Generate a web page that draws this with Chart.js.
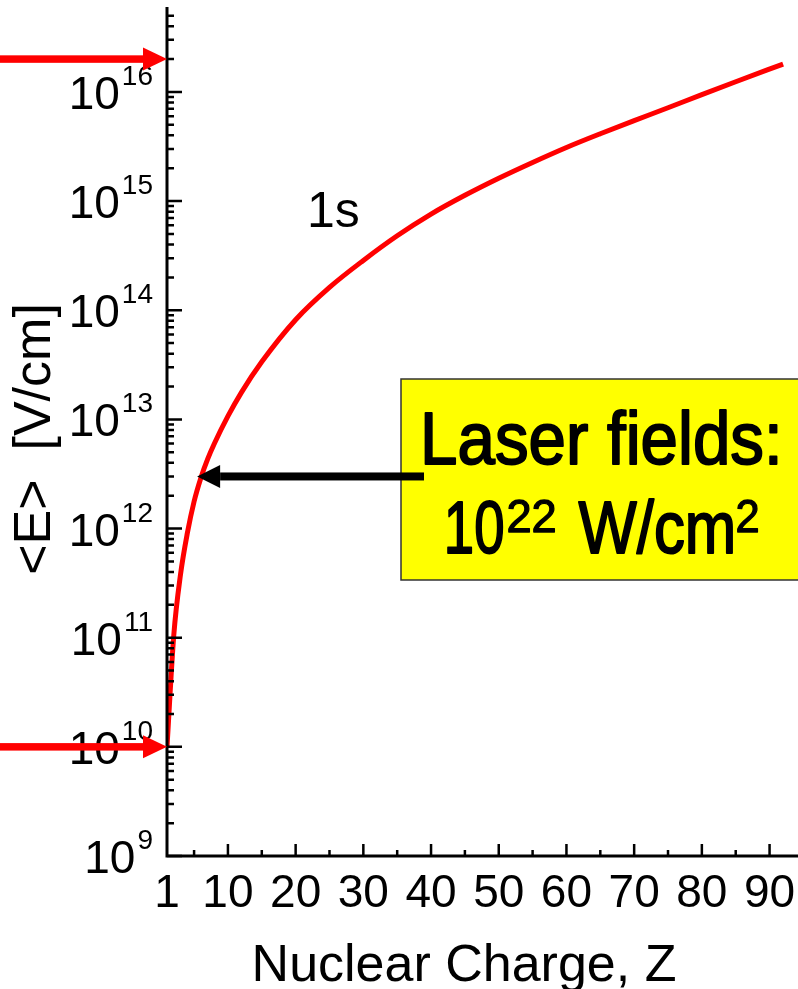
<!DOCTYPE html>
<html>
<head>
<meta charset="utf-8">
<script src="https://cdn.jsdelivr.net/npm/chart.js@4.4.1/dist/chart.umd.min.js"></script>
<style>
html,body{margin:0;padding:0;background:#ffffff;overflow:hidden;}
canvas{display:block;}
</style>
</head>
<body>
<canvas id="c" width="798" height="989"></canvas>
<script>
// ---- data ----
const zValues = [1, 2, 3, 4, 5, 6, 7, 8, 10, 12, 15, 20, 25, 30, 35, 40, 45, 50, 55, 60, 65, 70, 75, 80, 85, 92];
const eValues = [1.0e10, 1.05e11, 3.81e11, 9.04e11, 1.77e12, 2.91e12, 4.32e12, 6.01e12, 1.07e13, 1.77e13, 3.37e13, 8.19e13,
                 1.62e14, 2.86e14, 4.81e14, 7.6e14, 1.13e15, 1.62e15, 2.26e15, 3.10e15, 4.14e15, 5.46e15, 7.16e15,
                 9.46e15, 1.24e16, 1.80e16];
const xTickLabels = ['1', '10', '20', '30', '40', '50', '60', '70', '80', '90'];
const yTickExponents = ['9', '10', '11', '12', '13', '14', '15', '16'];
const seriesLabel = '1s';
const xTitle = 'Nuclear Charge, Z';
const yTitle = '<E>  [V/cm]';
const boxLine1 = 'Laser fields:';
const boxLine2 = ['10', '22', 'W/cm', '2'];
const redMarkerLevels = [2e16, 1e10];
const laserLevel = 3e12;
const laserZ = 5.45;

const FONT = '"Liberation Sans", Arial, Helvetica, sans-serif';

function fitText(ctx, text, size, inkL, inkR, baseY, thick) {
  ctx.font = size + 'px ' + FONT;
  ctx.textAlign = 'left';
  ctx.textBaseline = 'alphabetic';
  const m = ctx.measureText(text);
  const ink = m.actualBoundingBoxLeft + m.actualBoundingBoxRight;
  const sx = (inkR - inkL - thick / 2) / ink;
  ctx.save();
  ctx.translate(inkL + thick / 4, baseY);
  ctx.scale(sx, 1);
  ctx.fillText(text, m.actualBoundingBoxLeft, 0);
  if (thick) {
    ctx.lineWidth = thick;
    ctx.lineJoin = 'round';
    ctx.strokeText(text, m.actualBoundingBoxLeft, 0);
  }
  ctx.restore();
}

function hArrow(ctx, x0, tipX, yc, shaft, headLen, headHalf, color) {
  ctx.fillStyle = color;
  const dir = x0 < tipX ? -1 : 1;
  const headBase = tipX + dir * headLen;
  ctx.fillRect(Math.min(x0, headBase), yc - shaft / 2, Math.abs(x0 - headBase) + 1, shaft);
  ctx.beginPath();
  ctx.moveTo(tipX, yc);
  ctx.lineTo(headBase, yc - headHalf);
  ctx.lineTo(headBase, yc + headHalf);
  ctx.closePath();
  ctx.fill();
}

const decoPlugin = {
  id: 'deco',
  afterDatasetsDraw(chart) {
    const ctx = chart.ctx;
    const ca = chart.chartArea;
    const xs = chart.scales.x;
    const ys = chart.scales.y;
    ctx.save();

    // axes lines
    ctx.strokeStyle = '#000';
    ctx.lineWidth = 3;
    ctx.lineCap = 'butt';
    ctx.beginPath();
    ctx.moveTo(ca.left, ca.top);
    ctx.lineTo(ca.left, ca.bottom + 1.5);
    ctx.moveTo(ca.left - 1.5, ca.bottom);
    ctx.lineTo(ca.right, ca.bottom);
    ctx.stroke();

    // y ticks (inside)
    ctx.lineWidth = 2.5;
    ctx.beginPath();
    for (let e = 9; e <= 16; e++) {
      for (let m = 1; m <= 9; m++) {
        const v = m * Math.pow(10, e);
        if (v >= ys.max * 0.999) continue;
        const py = ys.getPixelForValue(v);
        const len = m === 1 ? 15 : 7;
        ctx.moveTo(ca.left, py);
        ctx.lineTo(ca.left + len, py);
      }
    }
    // x ticks (inside)
    for (let v = 5; v < xs.max; v += 5) {
      const px = xs.getPixelForValue(v);
      const len = v % 10 === 0 ? 12 : 6;
      ctx.moveTo(px, ca.bottom);
      ctx.lineTo(px, ca.bottom - len);
    }
    ctx.stroke();

    ctx.fillStyle = '#000';
    // y tick labels 10^n
    yTickExponents.forEach(ex => {
      const py = ys.getPixelForValue(Math.pow(10, Number(ex)));
      const right = 153;
      ctx.textAlign = 'right';
      ctx.textBaseline = 'alphabetic';
      ctx.font = '28px ' + FONT;
      const supW = ctx.measureText(ex).width;
      ctx.fillText(ex, right, py - 7);
      ctx.font = '46px ' + FONT;
      ctx.fillText('10', right - supW - 2, py + 17);
    });

    // x tick labels
    ctx.textAlign = 'center';
    ctx.font = '46px ' + FONT;
    xTickLabels.forEach(t => {
      const px = xs.getPixelForValue(Number(t));
      ctx.fillText(t, px, 907);
    });

    // axis titles
    ctx.font = '52px ' + FONT;
    ctx.textAlign = 'center';
    ctx.fillText(xTitle, 464, 981);
    ctx.save();
    ctx.translate(50, 439);
    ctx.rotate(-Math.PI / 2);
    ctx.fillText(yTitle, 0, 0);
    ctx.restore();

    // series label
    ctx.textAlign = 'left';
    ctx.font = '50px ' + FONT;
    ctx.fillText(seriesLabel, 307, 227);

    // yellow box
    ctx.fillStyle = '#ffff00';
    ctx.fillRect(401, 379, 400, 201);
    ctx.strokeStyle = '#333';
    ctx.lineWidth = 1.5;
    ctx.strokeRect(401, 379, 400, 201);

    ctx.fillStyle = '#000';
    ctx.strokeStyle = '#000';
    fitText(ctx, boxLine1, 75, 425, 777, 464, 2);
    fitText(ctx, boxLine2[0], 75, 447, 503, 553, 2);
    fitText(ctx, boxLine2[1], 47, 508, 555, 532, 1.3);
    fitText(ctx, boxLine2[2], 75, 578, 733, 553, 2);
    fitText(ctx, boxLine2[3], 47, 737, 758, 532, 1.3);

    // black arrow to the curve
    const tipX = xs.getPixelForValue(laserZ);
    const tipY = ys.getPixelForValue(laserLevel);
    hArrow(ctx, 423, tipX, tipY, 8, 23, 11.5, '#000');

    // red marker arrows on the left
    redMarkerLevels.forEach(lv => {
      const py = ys.getPixelForValue(lv);
      hArrow(ctx, 0, ca.left, py, 7.5, 24, 11.5, '#ff0000');
    });

    ctx.restore();
  }
};

const points = zValues.map((z, i) => ({ x: z, y: eValues[i] }));

new Chart(document.getElementById('c'), {
  type: 'line',
  data: {
    datasets: [{
      label: seriesLabel,
      data: points,
      borderColor: '#ff0000',
      borderWidth: 5,
      pointRadius: 0,
      fill: false,
      cubicInterpolationMode: 'monotone'
    }]
  },
  options: {
    responsive: false,
    animation: false,
    devicePixelRatio: 1,
    layout: { padding: { left: 167, right: 0, top: 7, bottom: 133 } },
    plugins: { legend: { display: false }, tooltip: { enabled: false } },
    scales: {
      x: { type: 'linear', min: 1, max: 94.2, display: false },
      y: { type: 'logarithmic', min: 1e9, max: 6e16, display: false }
    }
  },
  plugins: [decoPlugin]
});
</script>
</body>
</html>
